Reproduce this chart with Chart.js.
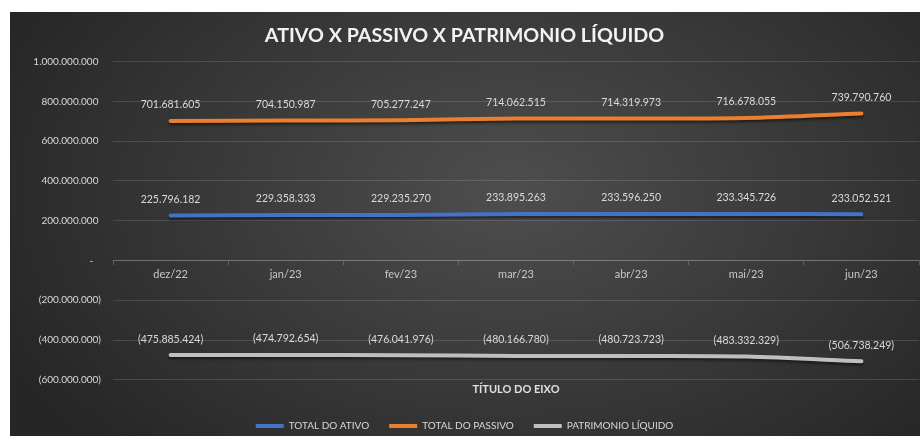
<!DOCTYPE html>
<html>
<head>
<meta charset="utf-8">
<script src="https://cdn.jsdelivr.net/npm/chart.js@4.4.0/dist/chart.umd.min.js"></script>
<style>
  html, body { margin: 0; padding: 0; background: #fff; overflow: hidden; }
  #wrap {
    position: absolute; left: 10px; top: 12px; width: 910px; height: 429px;
    background: radial-gradient(ellipse 62% 85% at 55% 42%, #4e4e4e 0%, #3c3c3c 45%, #262626 100%);
  }
</style>
</head>
<body>
<div id="wrap"><canvas id="chart"></canvas></div>
<script>
// --- data ---
const categories = ['dez/22', 'jan/23', 'fev/23', 'mar/23', 'abr/23', 'mai/23', 'jun/23'];
const totalAtivo = [225796182, 229358333, 229235270, 233895263, 233596250, 233345726, 233052521];
const totalPassivo = [701681605, 704150987, 705277247, 714062515, 714319973, 716678055, 739790760];
const patrimonio = [-475885424, -474792654, -476041976, -480166780, -480723723, -483332329, -506738249];
const seriesNames = ['TOTAL DO ATIVO', 'TOTAL DO PASSIVO', 'PATRIMONIO LÍQUIDO'];
const yMin = -600000000, yMax = 1000000000, yStep = 200000000;

const FONT = 'Lato, "Open Sans", sans-serif';

// 1234567 -> 1.234.567 ; negatives in parentheses
function fmt(v) {
    const s = Math.abs(Math.round(v)).toString().replace(/\B(?=(\d{3})+(?!\d))/g, '.');
    return v < 0 ? '(' + s + ')' : s;
}

// value labels above every point
const valueLabels = {
    id: 'valueLabels',
    afterDatasetsDraw(chart) {
        const ctx = chart.ctx;
        ctx.save();
        ctx.font = '10.5px ' + FONT;
        ctx.fillStyle = '#d9d9d9';
        ctx.textAlign = 'center';
        ctx.textBaseline = 'middle';
        chart.data.datasets.forEach((ds, i) => {
            chart.getDatasetMeta(i).data.forEach((pt, j) => {
                ctx.fillText(fmt(ds.data[j]), pt.x, pt.y - 16);
            });
        });
        ctx.restore();
    }
};

// soft shadow under the lines, like the spreadsheet style
const lineShadow = {
    id: 'lineShadow',
    beforeDatasetDraw(chart) {
        const ctx = chart.ctx;
        ctx.save();
        ctx.shadowColor = 'rgba(0,0,0,0.55)';
        ctx.shadowBlur = 3;
        ctx.shadowOffsetY = 2;
    },
    afterDatasetDraw(chart) {
        chart.ctx.restore();
    }
};

const ctx = document.getElementById('chart').getContext('2d');
new Chart(ctx, {
    type: 'line',
    data: {
        labels: categories,
        datasets: [
            { label: seriesNames[0], data: totalAtivo, borderColor: '#4472c4', backgroundColor: '#4472c4' },
            { label: seriesNames[1], data: totalPassivo, borderColor: '#ed7d31', backgroundColor: '#ed7d31' },
            { label: seriesNames[2], data: patrimonio, borderColor: '#bfbfbf', backgroundColor: '#bfbfbf' }
        ]
    },
    options: {
        responsive: true,
        maintainAspectRatio: false,
        animation: false,
        events: [],
        elements: {
            line: { borderWidth: 4, tension: 0.3, borderCapStyle: 'round' },
            point: { radius: 0 }
        },
        layout: { padding: { left: 0, right: 1, top: 0, bottom: 0 } },
        plugins: {
            title: {
                display: true,
                text: 'ATIVO X PASSIVO X PATRIMONIO LÍQUIDO',
                color: '#f2f2f2',
                font: { family: FONT, size: 19.7, weight: 'bold' },
                padding: { top: 12, bottom: 14 }
            },
            legend: {
                position: 'bottom',
                labels: {
                    color: '#d9d9d9',
                    font: { family: FONT, size: 10 },
                    boxWidth: 28,
                    boxHeight: 4,
                    padding: 20,
                    generateLabels(chart) {
                        return Chart.defaults.plugins.legend.labels.generateLabels(chart)
                            .map(l => Object.assign(l, { lineWidth: 0 }));
                    }
                }
            },
            tooltip: { enabled: false }
        },
        scales: {
            y: {
                min: yMin,
                max: yMax,
                afterFit(s) { s.width = 103; },
                grid: { color: 'rgba(255,255,255,0.13)', drawTicks: false },
                border: { display: false },
                ticks: {
                    stepSize: yStep,
                    padding: 12,
                    color: '#d9d9d9',
                    font: { family: FONT, size: 10 },
                    callback(v) {
                        if (v === 0) return '-   ';
                        return v < 0 ? fmt(v) : fmt(v) + ' ';
                    }
                }
            },
            x: {
                position: { y: 0 },
                offset: true,
                afterFit(s) { s.height = 0; },
                grid: { offset: true, drawOnChartArea: false, drawTicks: true, tickLength: 4, color: 'rgba(255,255,255,0.2)' },
                border: { display: true, color: 'rgba(255,255,255,0.2)' },
                ticks: { padding: 3, color: '#c8c8c8', font: { family: FONT, size: 11 } }
            },
            x2: {
                type: 'category',
                position: 'bottom',
                labels: categories,
                grid: { display: false, drawTicks: false },
                border: { display: false },
                ticks: { display: false },
                title: {
                    display: true,
                    text: 'TÍTULO DO EIXO',
                    color: '#e0e0e0',
                    font: { family: FONT, size: 11, weight: 'bold' },
                    padding: { top: 3, bottom: 5 }
                }
            }
        }
    },
    plugins: [lineShadow, valueLabels]
});
</script>
</body>
</html>
